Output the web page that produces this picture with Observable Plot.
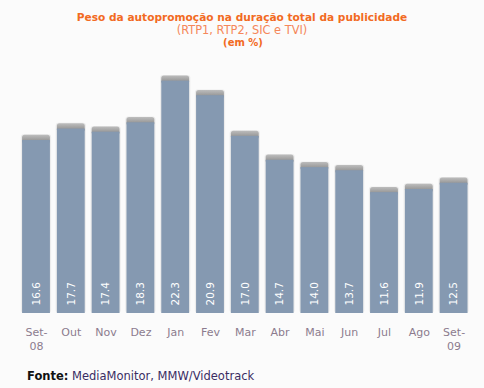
<!DOCTYPE html>
<html>
<head>
<meta charset="utf-8">
<script src="https://cdn.jsdelivr.net/npm/d3@7"></script>
<script src="https://cdn.jsdelivr.net/npm/@observablehq/plot@0.6"></script>
<style>
  html, body { margin: 0; padding: 0; background: #fbfbfb; }
  #wrap { position: relative; width: 484px; height: 388px; background: #fbfbfb; overflow: hidden; font-family: "DejaVu Sans", Verdana, sans-serif; }
  .t { position: absolute; left: 0; width: 484px; text-align: center; white-space: nowrap; line-height: 1; }
  #title { top: 12px; font-weight: bold; font-size: 10.6px; color: #f26a22; }
  #sub { top: 25px; font-size: 11.4px; color: #f5875a; }
  #unit { left: 1px; top: 37.5px; font-weight: bold; font-size: 10px; color: #f26a22; }
  #chart { position: absolute; left: 0; top: 50px; }
  #foot { position: absolute; left: 27px; top: 369px; font-size: 11.5px; color: #3a2d63; white-space: nowrap; }
  #foot b { color: #111; }
</style>
</head>
<body>
<div id="wrap">
  <div class="t" id="title">Peso da autopromoção na duração total da publicidade</div>
  <div class="t" id="sub">(RTP1, RTP2, SIC e TVI)</div>
  <div class="t" id="unit">(em %)</div>
  <div id="chart"></div>
  <div id="foot"><b>Fonte:</b> MediaMonitor, MMW/Videotrack</div>
</div>
<script>
const months = ["Set-\n08", "Out", "Nov", "Dez", "Jan", "Fev", "Mar", "Abr", "Mai", "Jun", "Jul", "Ago", "Set-\n09"];
const values = [16.6, 17.7, 17.4, 18.3, 22.3, 20.9, 17.0, 14.7, 14.0, 13.7, 11.6, 11.9, 12.5];

const data = months.map((m, i) => ({month: m, value: values[i]}));

const svg = Plot.plot({
  width: 484,
  height: 310,
  marginTop: 0,
  marginBottom: 47,
  marginLeft: 0,
  marginRight: 0,
  style: {background: "transparent", fontFamily: "DejaVu Sans, Verdana, sans-serif"},
  x: {domain: months, range: [18.6, 471], paddingInner: 0.2, paddingOuter: 0.1, round: false, label: null},
  y: {domain: [0, 24], range: [263, 263 - 24 * 10.42], axis: null},
  marks: [
    Plot.barY(data, {x: "month", y1: 0, y2: d => d.value + 0.55, fill: "#d9d9d9", fillOpacity: 0.45, insetLeft: -1.2, insetRight: -1.2, rx: 3}),
    Plot.barY(data, {x: "month", y1: d => d.value - 0.3, y2: d => d.value + 0.5, fill: "url(#capgrad)", rx: 2.5}),
    Plot.barY(data, {x: "month", y1: 0, y2: "value", fill: "#8599b1"}),
    Plot.text(data, {x: "month", y: 0, text: d => d.value.toFixed(1), rotate: -90, textAnchor: "start", dy: -8, fill: "white", fontSize: 10.5}),
    Plot.axisX({tickSize: 0, tickPadding: 13, fontSize: 11, lineHeight: 1.25, color: "#8c7b8e", lineAnchor: "top", label: null})
  ]
});

const defs = d3.select(svg).insert("defs", ":first-child");
const g = defs.append("linearGradient").attr("id", "capgrad").attr("x1", 0).attr("x2", 0).attr("y1", 0).attr("y2", 1);
g.append("stop").attr("offset", "0%").attr("stop-color", "#bdbdbd");
g.append("stop").attr("offset", "100%").attr("stop-color", "#858585");

document.getElementById("chart").appendChild(svg);
</script>
</body>
</html>
